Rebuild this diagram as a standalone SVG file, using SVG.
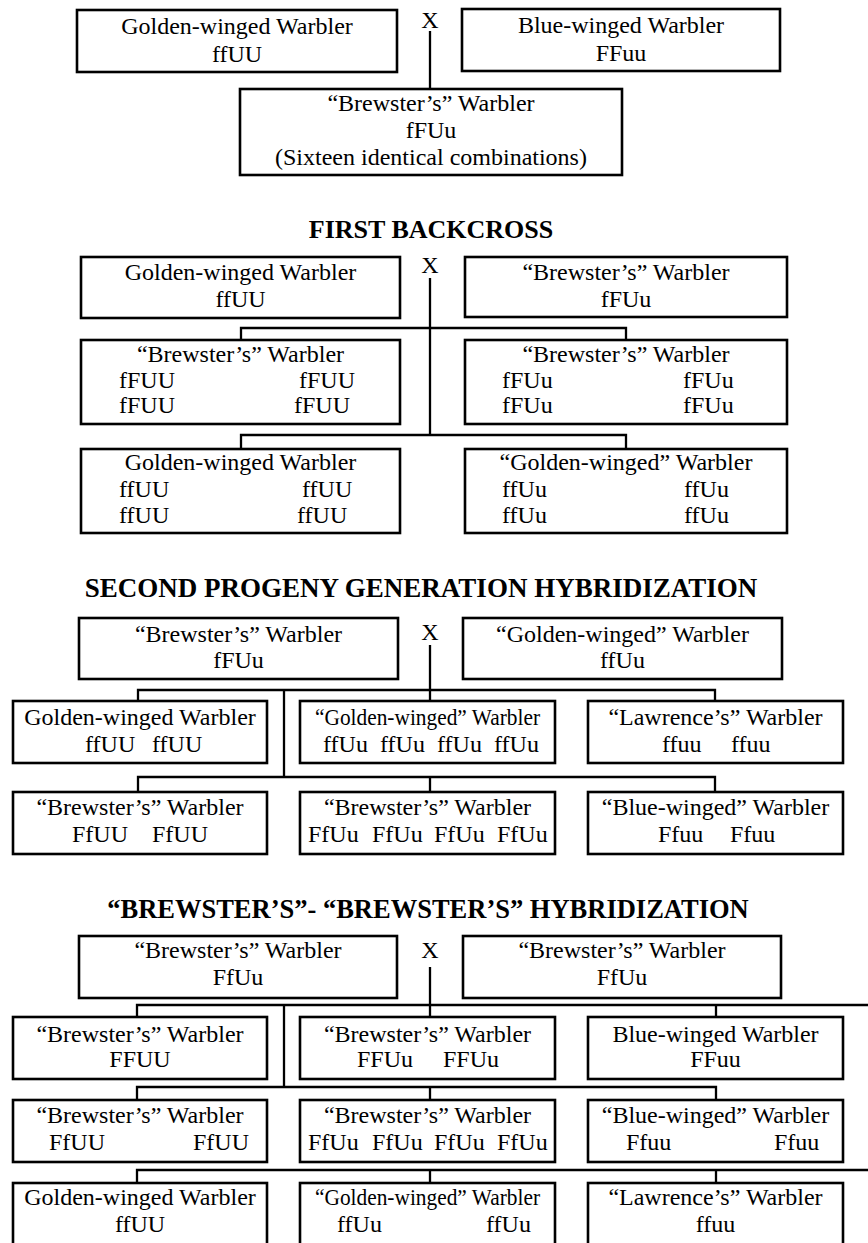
<svg xmlns="http://www.w3.org/2000/svg" width="868" height="1243" viewBox="0 0 868 1243">
<style>
.bg{fill:#fff}
.box{fill:#fff;stroke:#000;stroke-width:2.6}
.t{font-family:"Liberation Serif","Times New Roman",serif;font-size:24px;fill:#000;text-anchor:middle}
.s{text-anchor:start}
.title{font-weight:bold;font-size:26px}
.conn{stroke:#000;stroke-width:2.3;fill:none}
</style>
<rect class="bg" x="0" y="0" width="868" height="1243"/>

<g id="connectors">
  <path class="conn" d="M430,31 V89"/>
  <path class="conn" d="M430,278 V435"/>
  <path class="conn" d="M241,340 V328 H626 V340"/>
  <path class="conn" d="M241,449 V435 H626 V449"/>
  <path class="conn" d="M430,645 V701"/>
  <path class="conn" d="M138,701 V690 H715 V701"/>
  <path class="conn" d="M284,690 V777"/>
  <path class="conn" d="M138,792 V777 H715 V792"/>
  <path class="conn" d="M430,777 V792"/>
  <path class="conn" d="M430,967 V1017"/>
  <path class="conn" d="M137,1017 V1005 H868"/>
  <path class="conn" d="M716,1005 V1017"/>
  <path class="conn" d="M284,1005 V1087"/>
  <path class="conn" d="M137,1100 V1087 H716 V1100"/>
  <path class="conn" d="M430,1087 V1100"/>
  <path class="conn" d="M137,1183 V1170 H868"/>
  <path class="conn" d="M430,1170 V1183"/>
  <path class="conn" d="M716,1170 V1183"/>
</g>

<!-- Section 1 -->
<g id="s1-golden">
  <rect class="box" x="77" y="10" width="320" height="62"/>
  <text class="t" x="237" y="34">Golden-winged Warbler</text>
  <text class="t" x="237" y="62">ffUU</text>
</g>
<g id="s1-cross"><text class="t" x="430" y="28">X</text></g>
<g id="s1-blue">
  <rect class="box" x="462" y="9" width="318" height="62"/>
  <text class="t" x="621" y="33">Blue-winged Warbler</text>
  <text class="t" x="621" y="61">FFuu</text>
</g>
<g id="s1-brewster">
  <rect class="box" x="240" y="89" width="382" height="86"/>
  <text class="t" x="431" y="111">“Brewster’s” Warbler</text>
  <text class="t" x="431" y="138">fFUu</text>
  <text class="t" x="431" y="165">(Sixteen identical combinations)</text>
</g>

<!-- Section 2 -->
<g id="s2-title"><text class="t title" x="431" y="238">FIRST BACKCROSS</text></g>
<g id="s2-golden">
  <rect class="box" x="81" y="257" width="319" height="61"/>
  <text class="t" x="240.5" y="280">Golden-winged Warbler</text>
  <text class="t" x="240.5" y="307">ffUU</text>
</g>
<g id="s2-cross"><text class="t" x="430" y="273">X</text></g>
<g id="s2-brewster">
  <rect class="box" x="465" y="257" width="322" height="60"/>
  <text class="t" x="626" y="280">“Brewster’s” Warbler</text>
  <text class="t" x="626" y="307">fFUu</text>
</g>
<g id="s2-mid-left">
  <rect class="box" x="81" y="340" width="319" height="84"/>
  <text class="t" x="240.5" y="362">“Brewster’s” Warbler</text>
  <text class="t s" y="388"><tspan x="119">fFUU</tspan><tspan x="299">fFUU</tspan></text>
  <text class="t s" y="413"><tspan x="119">fFUU</tspan><tspan x="294">fFUU</tspan></text>
</g>
<g id="s2-mid-right">
  <rect class="box" x="465" y="340" width="322" height="84"/>
  <text class="t" x="626" y="362">“Brewster’s” Warbler</text>
  <text class="t s" y="388"><tspan x="502">fFUu</tspan><tspan x="683">fFUu</tspan></text>
  <text class="t s" y="413"><tspan x="502">fFUu</tspan><tspan x="683">fFUu</tspan></text>
</g>
<g id="s2-bot-left">
  <rect class="box" x="81" y="449" width="319" height="84"/>
  <text class="t" x="240.5" y="470">Golden-winged Warbler</text>
  <text class="t s" y="497"><tspan x="119">ffUU</tspan><tspan x="302">ffUU</tspan></text>
  <text class="t s" y="523"><tspan x="119">ffUU</tspan><tspan x="297">ffUU</tspan></text>
</g>
<g id="s2-bot-right">
  <rect class="box" x="465" y="449" width="322" height="84"/>
  <text class="t" x="626" y="470">“Golden-winged” Warbler</text>
  <text class="t s" y="497"><tspan x="502">ffUu</tspan><tspan x="684">ffUu</tspan></text>
  <text class="t s" y="523"><tspan x="502">ffUu</tspan><tspan x="684">ffUu</tspan></text>
</g>

<!-- Section 3 -->
<g id="s3-title"><text class="t title" x="421" y="597" style="font-size:27px">SECOND PROGENY GENERATION HYBRIDIZATION</text></g>
<g id="s3-brewster">
  <rect class="box" x="79" y="618" width="319" height="61"/>
  <text class="t" x="238.5" y="642">“Brewster’s” Warbler</text>
  <text class="t" x="238.5" y="668">fFUu</text>
</g>
<g id="s3-cross"><text class="t" x="430" y="640">X</text></g>
<g id="s3-golden">
  <rect class="box" x="463" y="618" width="319" height="61"/>
  <text class="t" x="622.5" y="642">“Golden-winged” Warbler</text>
  <text class="t" x="622.5" y="668">ffUu</text>
</g>
<g id="s3-r1-golden">
  <rect class="box" x="13" y="701" width="254" height="62"/>
  <text class="t" x="140" y="725">Golden-winged Warbler</text>
  <text class="t s" y="752"><tspan x="85">ffUU</tspan><tspan x="152">ffUU</tspan></text>
</g>
<g id="s3-r1-goldenq">
  <rect class="box" x="300" y="701" width="255" height="62"/>
  <text class="t" x="427.5" y="725" textLength="225" lengthAdjust="spacingAndGlyphs">“Golden-winged” Warbler</text>
  <text class="t s" y="752"><tspan x="323">ffUu</tspan><tspan x="380">ffUu</tspan><tspan x="437">ffUu</tspan><tspan x="494">ffUu</tspan></text>
</g>
<g id="s3-r1-lawrence">
  <rect class="box" x="588" y="701" width="255" height="62"/>
  <text class="t" x="715.5" y="725">“Lawrence’s” Warbler</text>
  <text class="t s" y="752"><tspan x="662">ffuu</tspan><tspan x="731">ffuu</tspan></text>
</g>
<g id="s3-r2-brewster1">
  <rect class="box" x="13" y="792" width="254" height="62"/>
  <text class="t" x="140" y="815">“Brewster’s” Warbler</text>
  <text class="t s" y="842"><tspan x="72">FfUU</tspan><tspan x="152">FfUU</tspan></text>
</g>
<g id="s3-r2-brewster2">
  <rect class="box" x="300" y="792" width="255" height="62"/>
  <text class="t" x="427.5" y="815">“Brewster’s” Warbler</text>
  <text class="t s" y="842"><tspan x="308">FfUu</tspan><tspan x="372">FfUu</tspan><tspan x="434">FfUu</tspan><tspan x="497">FfUu</tspan></text>
</g>
<g id="s3-r2-blue">
  <rect class="box" x="588" y="792" width="255" height="62"/>
  <text class="t" x="715.5" y="815">“Blue-winged” Warbler</text>
  <text class="t s" y="842"><tspan x="658">Ffuu</tspan><tspan x="730">Ffuu</tspan></text>
</g>

<!-- Section 4 -->
<g id="s4-title"><text class="t title" x="428" y="918" style="font-size:26.5px">“BREWSTER’S”- “BREWSTER’S” HYBRIDIZATION</text></g>
<g id="s4-brewster-left">
  <rect class="box" x="79" y="936" width="318" height="62"/>
  <text class="t" x="238" y="958">“Brewster’s” Warbler</text>
  <text class="t" x="238" y="985">FfUu</text>
</g>
<g id="s4-cross"><text class="t" x="430" y="958">X</text></g>
<g id="s4-brewster-right">
  <rect class="box" x="463" y="936" width="318" height="62"/>
  <text class="t" x="622" y="958">“Brewster’s” Warbler</text>
  <text class="t" x="622" y="985">FfUu</text>
</g>
<g id="s4-r1-brewster1">
  <rect class="box" x="13" y="1017" width="254" height="62"/>
  <text class="t" x="140" y="1042">“Brewster’s” Warbler</text>
  <text class="t" x="140" y="1067">FFUU</text>
</g>
<g id="s4-r1-brewster2">
  <rect class="box" x="300" y="1017" width="255" height="62"/>
  <text class="t" x="427.5" y="1042">“Brewster’s” Warbler</text>
  <text class="t s" y="1067"><tspan x="357">FFUu</tspan><tspan x="443">FFUu</tspan></text>
</g>
<g id="s4-r1-blue">
  <rect class="box" x="588" y="1017" width="255" height="62"/>
  <text class="t" x="715.5" y="1042">Blue-winged Warbler</text>
  <text class="t" x="715.5" y="1067">FFuu</text>
</g>
<g id="s4-r2-brewster1">
  <rect class="box" x="13" y="1100" width="254" height="62"/>
  <text class="t" x="140" y="1123">“Brewster’s” Warbler</text>
  <text class="t s" y="1150"><tspan x="49">FfUU</tspan><tspan x="193">FfUU</tspan></text>
</g>
<g id="s4-r2-brewster2">
  <rect class="box" x="300" y="1100" width="255" height="62"/>
  <text class="t" x="427.5" y="1123">“Brewster’s” Warbler</text>
  <text class="t s" y="1150"><tspan x="308">FfUu</tspan><tspan x="372">FfUu</tspan><tspan x="434">FfUu</tspan><tspan x="497">FfUu</tspan></text>
</g>
<g id="s4-r2-blue">
  <rect class="box" x="588" y="1100" width="255" height="62"/>
  <text class="t" x="715.5" y="1123">“Blue-winged” Warbler</text>
  <text class="t s" y="1150"><tspan x="626">Ffuu</tspan><tspan x="774">Ffuu</tspan></text>
</g>
<g id="s4-r3-golden">
  <rect class="box" x="13" y="1183" width="254" height="80"/>
  <text class="t" x="140" y="1205">Golden-winged Warbler</text>
  <text class="t" x="140" y="1232">ffUU</text>
</g>
<g id="s4-r3-goldenq">
  <rect class="box" x="300" y="1183" width="255" height="80"/>
  <text class="t" x="427.5" y="1205" textLength="225" lengthAdjust="spacingAndGlyphs">“Golden-winged” Warbler</text>
  <text class="t s" y="1232"><tspan x="337">ffUu</tspan><tspan x="486">ffUu</tspan></text>
</g>
<g id="s4-r3-lawrence">
  <rect class="box" x="588" y="1183" width="255" height="80"/>
  <text class="t" x="715.5" y="1205">“Lawrence’s” Warbler</text>
  <text class="t" x="715.5" y="1232">ffuu</text>
</g>
</svg>
